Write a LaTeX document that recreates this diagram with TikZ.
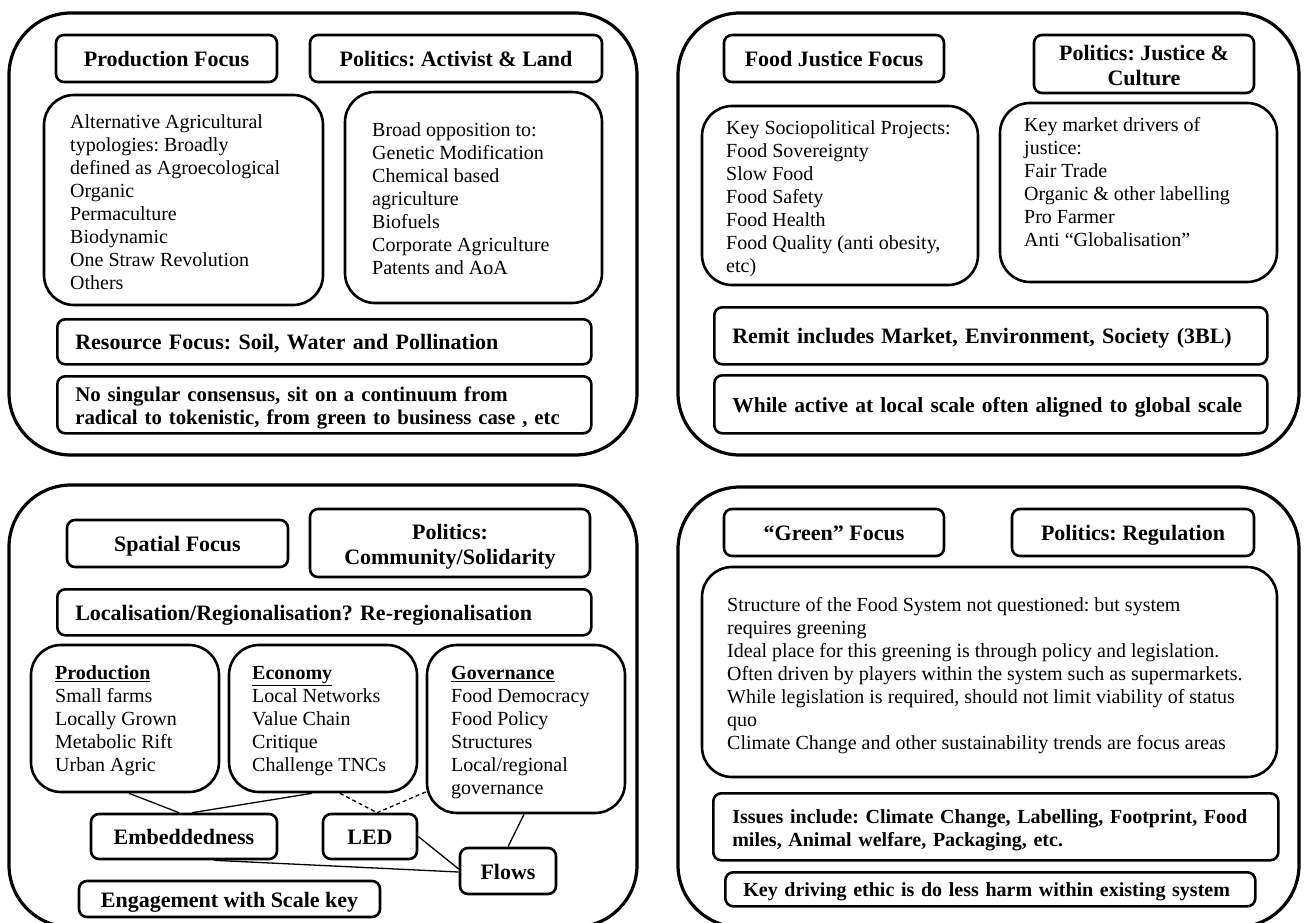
\documentclass[tikz,border=0pt]{standalone}
\usepackage{fontspec}
\setmainfont{Liberation Serif}
\newcommand\myBody{\fontsize{20}{23}\selectfont\frenchspacing}
\newcommand\myHead{\fontsize{22}{25}\selectfont\bfseries\frenchspacing}
\newcommand\mySub{\fontsize{20}{23}\selectfont\bfseries\frenchspacing}
\tikzset{
 outerbox/.style={draw, line width=3.2pt, rounded corners=62pt, inner sep=0pt},
 hbox/.style={draw, line width=2.6pt, rounded corners=8pt, align=center, inner sep=0pt, font=\myHead},
 lbox/.style={draw, line width=2.6pt, rounded corners=8pt, align=left, inner xsep=18pt, inner ysep=0pt, anchor=north west, font=\myHead},
 rbox/.style={draw, line width=2.6pt, rounded corners=30pt, inner sep=0pt},
 txt/.style={anchor=north west, align=left, inner sep=0pt, font=\myBody},
 one/.style={text height=16pt, text depth=0pt},
 two/.style={text depth=0pt},
 conn/.style={line width=1.3pt},
 dconn/.style={conn, dash pattern=on 4pt off 3pt},
}
\begin{document}
\begin{tikzpicture}[x=1pt,y=-1pt]
\useasboundingbox (0,0) rectangle (1306,923);
\fill[white] (0,0) rectangle (1306,923);
\clip (0,0) rectangle (1306,923);

% ---------- outer frames
\node[outerbox, minimum width=628pt, minimum height=442pt] (TL) at (323,234) {};
\node[outerbox, minimum width=621pt, minimum height=442pt] (TR) at (988.5,234) {};
\node[outerbox, minimum width=628pt, minimum height=442pt] (BL) at (323,706) {};
\node[outerbox, minimum width=621pt, minimum height=440pt] (BR) at (988.5,707) {};

% ---------- top left
\node[hbox, one, minimum width=221pt, minimum height=47pt] (hProd) at (166.5,58.5) {Production Focus};
\node[hbox, one, minimum width=292pt, minimum height=47pt] (hPolAL) at (456,58.5) {Politics: Activist \& Land};
\node[rbox, minimum width=279pt, minimum height=210pt] (rAlt) at (183.5,200) {};
\node[txt] (tAlt) at (70,112) {\strut Alternative Agricultural\\typologies: Broadly\\defined as Agroecological\\Organic\\Permaculture\\Biodynamic\\One Straw Revolution\\Others};
\node[rbox, minimum width=257pt, minimum height=211pt] (rOpp) at (473.5,197.5) {};
\node[txt] (tOpp) at (372,120) {\strut Broad opposition to:\\Genetic Modification\\Chemical based\\agriculture\\Biofuels\\Corporate Agriculture\\Patents and AoA};
\node[lbox, one, minimum height=45pt, text width=498pt] (bRes) at (56,318) {\mbox{Resource Focus: Soil, Water and Pollination}};
\node[lbox, text depth=23.5pt, font=\fontsize{20.8}{23.5}\selectfont\bfseries\frenchspacing, minimum height=57pt, text width=498pt] (bNo) at (56,375) {\mbox{\strut No singular consensus, sit on a continuum from}\\\mbox{radical to tokenistic, from green to business case , etc}};

% ---------- top right
\node[hbox, one, minimum width=220pt, minimum height=47pt] (hFJ) at (834,58.5) {Food Justice Focus};
\node[hbox, two, minimum width=220pt, minimum height=58pt] (hPJC) at (1144,64) {\strut Politics: Justice \&\\Culture};
\node[rbox, minimum width=276pt, minimum height=179pt] (rKey) at (840,195.5) {};
\node[txt] (tKey) at (726,118) {\strut Key Sociopolitical Projects:\\Food Sovereignty\\Slow Food\\Food Safety\\Food Health\\Food Quality (anti obesity,\\etc)};
\node[rbox, minimum width=277pt, minimum height=179pt] (rMkt) at (1138.5,192.5) {};
\node[txt] (tMkt) at (1024,115) {\strut Key market drivers of\\justice:\\Fair Trade\\Organic \& other labelling\\Pro Farmer\\Anti “Globalisation”};
\node[lbox, one, minimum height=57pt, text width=517pt] (bRemit) at (713,306) {\mbox{Remit includes Market, Environment, Society (3BL)}};
\node[lbox, one, font=\fontsize{21.5}{24}\selectfont\bfseries\frenchspacing, minimum height=58pt, text width=517pt] (bWhile) at (713,374) {\mbox{While active at local scale often aligned to global scale}};

% ---------- bottom left
\node[hbox, one, minimum width=221pt, minimum height=47pt] (hSpat) at (177.5,543.5) {Spatial Focus};
\node[hbox, two, minimum width=280pt, minimum height=68pt] (hPolCS) at (450,543) {\strut Politics:\\Community/Solidarity};
\node[lbox, one, minimum height=46pt, text width=498pt] (bLoc) at (56,588) {\mbox{Localisation/Regionalisation? Re-regionalisation}};
\node[rbox, minimum width=188pt, minimum height=147pt] (rProdn) at (125,718.5) {};
\node[txt] (tProdn) at (55,663) {\strut\textbf{\underline{Production}}\\Small farms\\Locally Grown\\Metabolic Rift\\Urban Agric};
\node[rbox, minimum width=188pt, minimum height=147pt] (rEcon) at (323,718.5) {};
\node[txt] (tEcon) at (252,663) {\strut\textbf{\underline{Economy}}\\Local Networks\\Value Chain\\Critique\\Challenge TNCs};
\node[rbox, minimum width=198pt, minimum height=168pt] (rGov) at (526,729) {};
\node[txt] (tGov) at (451,663) {\strut\textbf{\underline{Governance}}\\Food Democracy\\Food Policy\\Structures\\Local/regional\\governance};
\node[hbox, one, minimum width=186pt, minimum height=45pt] (nEmb) at (184,836.5) {Embeddedness};
\node[hbox, one, minimum width=94pt, minimum height=45pt] (nLED) at (370,836.5) {LED};
\node[hbox, one, minimum width=96pt, minimum height=46pt] (nFlows) at (508,871) {Flows};
\node[hbox, one, minimum width=301pt, minimum height=36pt] (nEng) at (229.5,899) {Engagement with Scale key};

\draw[conn] ([xshift=4pt]rProdn.south) -- ([xshift=-5pt]nEmb.north);
\draw[conn] ([xshift=-11pt]rEcon.south) -- ([xshift=8pt]nEmb.north);
\draw[dconn] ([xshift=17pt]rEcon.south) -- ([xshift=7pt]nLED.north);
\draw[dconn] ([yshift=-63pt]rGov.west) -- ([xshift=7pt]nLED.north);
\draw[conn] ([xshift=-2pt]rGov.south) -- (nFlows.north);
\draw[conn] (nLED.east) -- ([yshift=2pt]nFlows.west);
\draw[conn] ([xshift=30pt]nEmb.south) -- ([yshift=-1pt]nFlows.west);

% ---------- bottom right
\node[hbox, one, minimum width=220pt, minimum height=47pt] (hGreen) at (834,532.5) {“Green” Focus};
\node[hbox, one, minimum width=242pt, minimum height=47pt] (hReg) at (1133,532.5) {Politics: Regulation};
\node[rbox, minimum width=575pt, minimum height=210pt] (rGreen) at (989.5,672) {};
\node[txt] (tGreen) at (727,595) {\strut Structure of the Food System not questioned: but system\\requires greening\\Ideal place for this greening is through policy and legislation.\\Often driven by players within the system such as supermarkets.\\While legislation is required, should not limit viability of status\\quo\\Climate Change and other sustainability trends are focus areas};
\node[lbox, text depth=23pt, font=\mySub, inner xsep=19pt, minimum height=67pt, text width=527pt] (bIssues) at (712,792) {\mbox{\strut Issues include: Climate Change, Labelling, Footprint, Food}\\\mbox{miles, Animal welfare, Packaging, etc.}};
\node[lbox, one, font=\mySub, text height=14.6pt, minimum height=34pt, text width=494pt] (bKey) at (724,871) {\mbox{Key driving ethic is do less harm within existing system}};
\end{tikzpicture}
\end{document}
